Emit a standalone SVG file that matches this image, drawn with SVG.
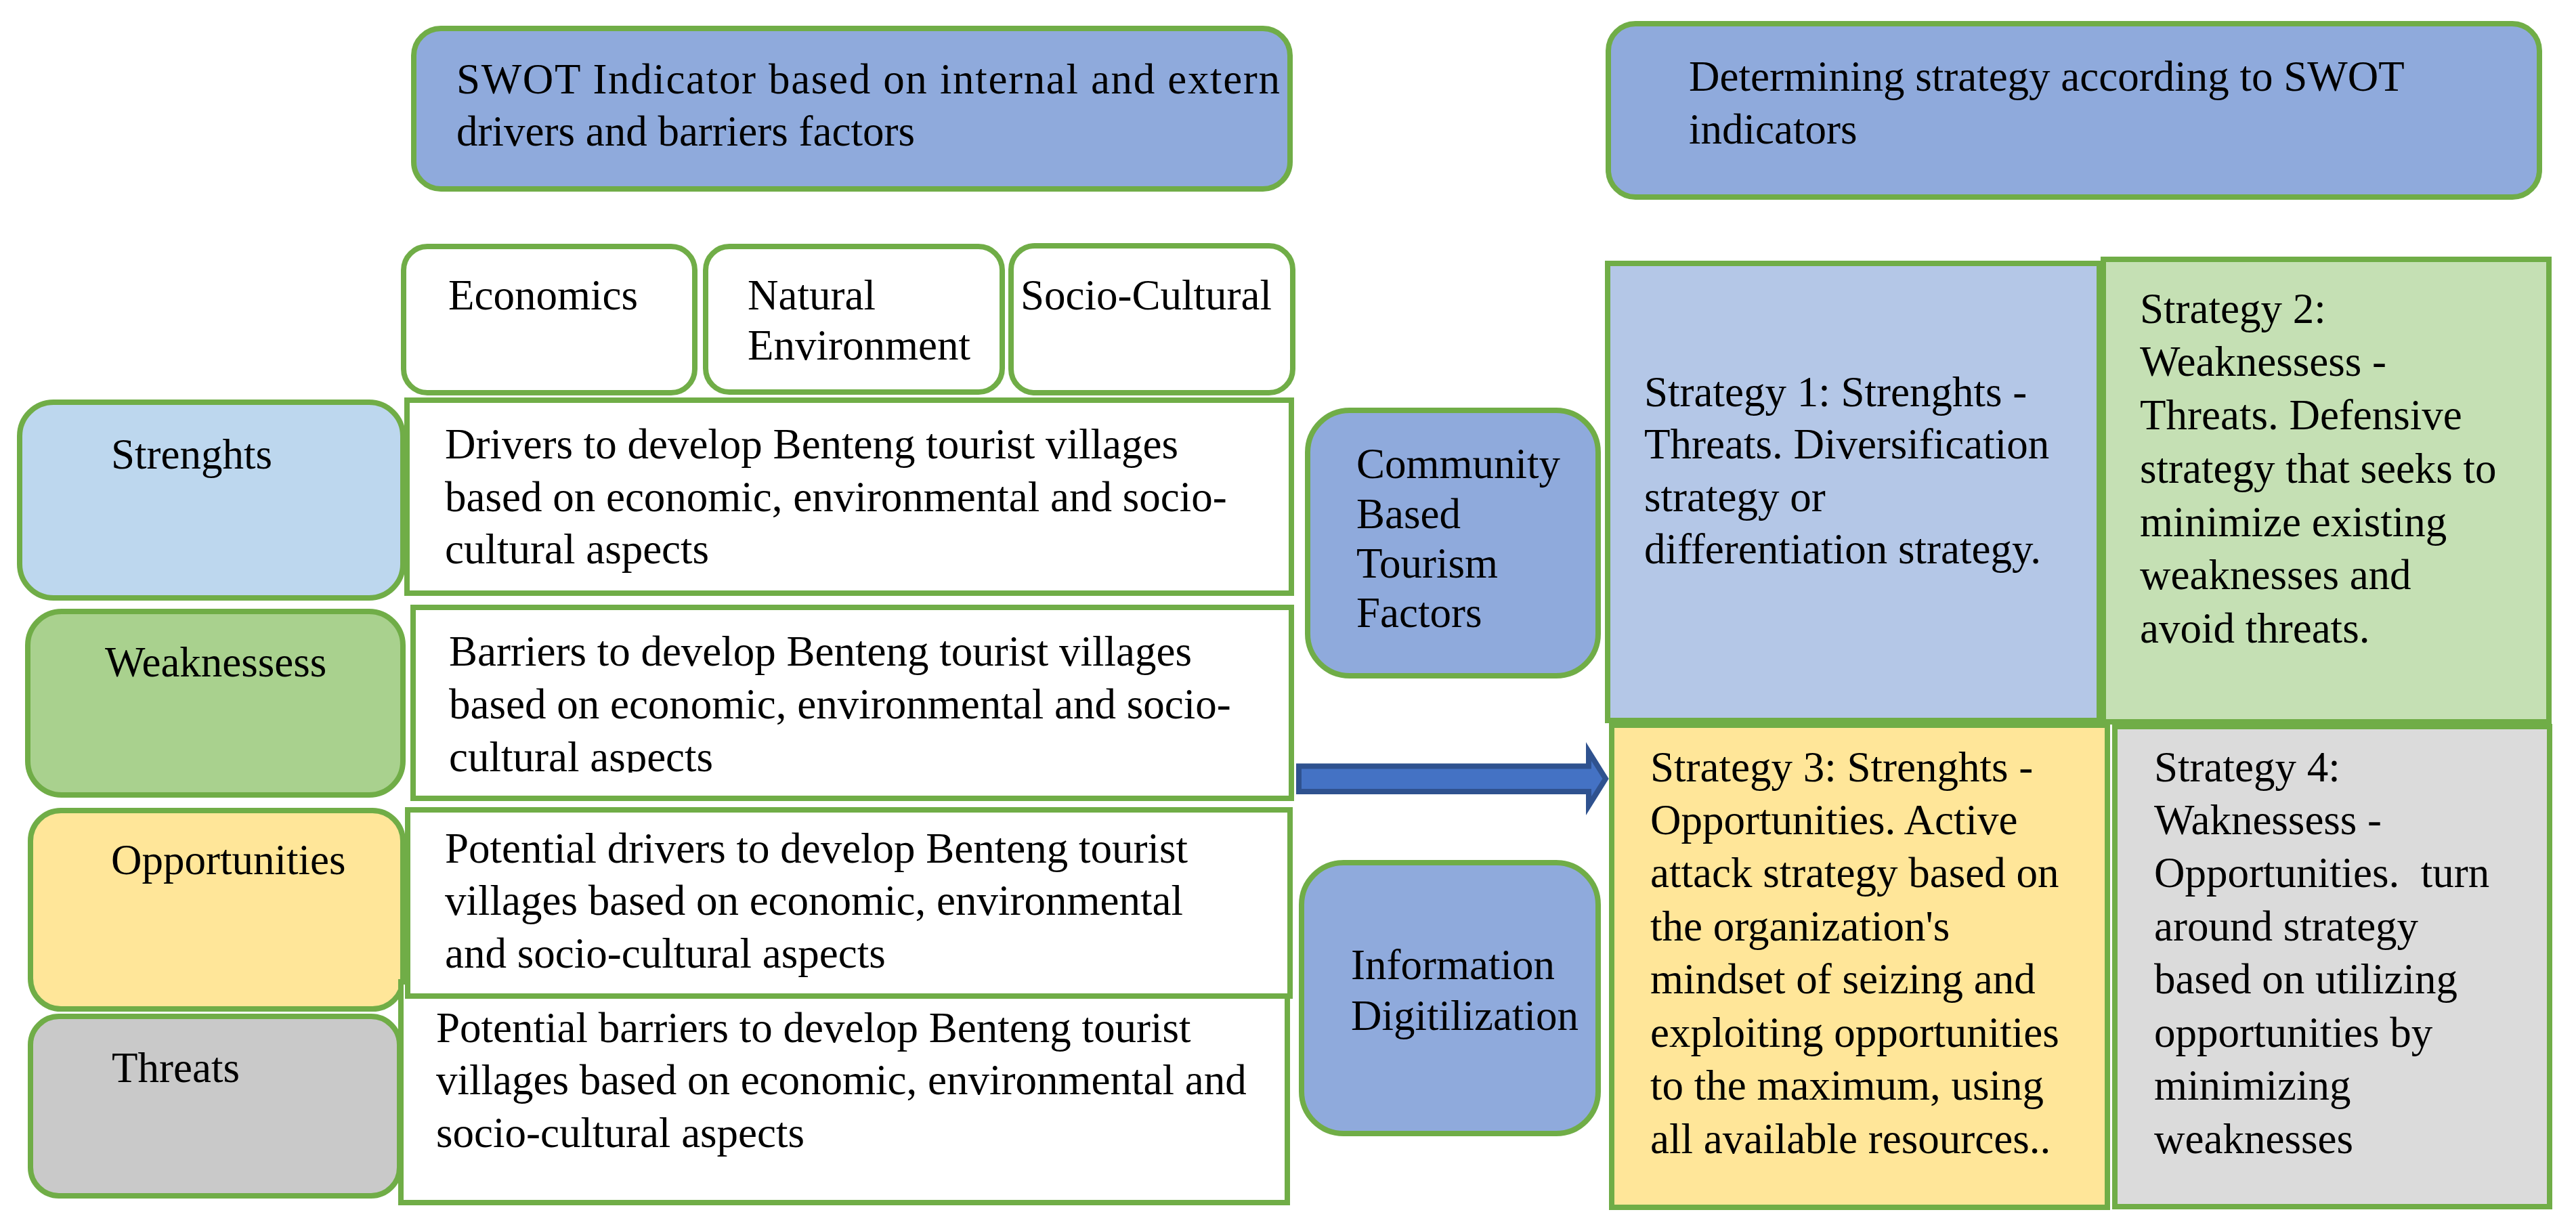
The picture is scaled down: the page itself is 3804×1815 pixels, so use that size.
<svg xmlns="http://www.w3.org/2000/svg" width="3804" height="1815" viewBox="0 0 3804 1815">
<style>
.b{stroke:#70AD47;stroke-width:8}
.t{font-family:"Liberation Serif","Times New Roman",serif;font-size:63px;fill:#000}
.hdr{fill:#8FAADC}
.wht{fill:#FFFFFF}
</style>
<defs>
<clipPath id="clipW"><rect x="600" y="890" width="1310" height="251"/></clipPath>
</defs>
<rect width="3804" height="1815" fill="#FFFFFF"/>

<g id="swot-header">
<rect class="b hdr" x="611" y="42" width="1294" height="237" rx="40"/>
<text class="t"><tspan x="674" y="138" textLength="1216" lengthAdjust="spacing">SWOT Indicator based on internal and extern</tspan><tspan x="674" y="215">drivers and barriers factors</tspan></text>
</g>

<g id="strategy-header">
<rect class="b hdr" x="2375" y="35" width="1375" height="256" rx="40"/>
<text class="t"><tspan x="2494" y="134">Determining strategy according to SWOT</tspan><tspan x="2494" y="212">indicators</tspan></text>
</g>

<g id="economics">
<rect class="b wht" x="596" y="364" width="430" height="216" rx="35"/>
<text class="t" x="662" y="457">Economics</text>
</g>
<g id="natural-environment">
<rect class="b wht" x="1042" y="364" width="438" height="215" rx="35"/>
<text class="t"><tspan x="1104" y="457">Natural</tspan><tspan x="1104" y="531">Environment</tspan></text>
</g>
<g id="socio-cultural">
<rect class="b wht" x="1493" y="363" width="416" height="217" rx="35"/>
<text class="t" x="1507" y="457">Socio-Cultural</text>
</g>

<g id="strenghts">
<rect class="b" fill="#BDD7EE" x="29" y="594" width="566" height="289" rx="50"/>
<text class="t" x="164" y="692">Strenghts</text>
</g>
<g id="weaknessess">
<rect class="b" fill="#A9D18E" x="41" y="903" width="554" height="271" rx="50"/>
<text class="t" x="155" y="999">Weaknessess</text>
</g>
<g id="opportunities">
<rect class="b" fill="#FFE699" x="45" y="1197" width="550" height="293" rx="45"/>
<text class="t" x="164" y="1291">Opportunities</text>
</g>
<g id="threats">
<rect class="b" fill="#C9C9C9" x="45" y="1501" width="545" height="265" rx="42"/>
<text class="t" x="165" y="1598">Threats</text>
</g>

<g id="potential-barriers">
<rect class="b wht" x="592" y="1450" width="1309" height="326"/>
<text class="t"><tspan x="644" y="1539">Potential barriers to develop Benteng tourist</tspan><tspan x="644" y="1616">villages based on economic, environmental and</tspan><tspan x="644" y="1694">socio-cultural aspects</tspan></text>
</g>
<g id="drivers">
<rect class="b wht" x="601" y="591" width="1306" height="285"/>
<text class="t"><tspan x="657" y="677">Drivers to develop Benteng tourist villages</tspan><tspan x="657" y="755">based on economic, environmental and socio-</tspan><tspan x="657" y="832">cultural aspects</tspan></text>
</g>
<g id="barriers">
<rect class="b wht" x="610" y="897" width="1297" height="282"/>
<text class="t" clip-path="url(#clipW)"><tspan x="663" y="983">Barriers to develop Benteng tourist villages</tspan><tspan x="663" y="1061">based on economic, environmental and socio-</tspan><tspan x="663" y="1139">cultural aspects</tspan></text>
</g>
<g id="potential-drivers">
<rect class="b wht" x="602" y="1196" width="1303" height="275"/>
<text class="t"><tspan x="657" y="1274">Potential drivers to develop Benteng tourist</tspan><tspan x="657" y="1351">villages based on economic, environmental</tspan><tspan x="657" y="1429">and socio-cultural aspects</tspan></text>
</g>

<g id="community-based-tourism">
<rect class="b hdr" x="1931" y="606" width="429" height="392" rx="62"/>
<text class="t"><tspan x="2003" y="706">Community</tspan><tspan x="2003" y="780">Based</tspan><tspan x="2003" y="853">Tourism</tspan><tspan x="2003" y="926">Factors</tspan></text>
</g>
<g id="information-digitilization">
<rect class="b hdr" x="1922" y="1274" width="438" height="400" rx="62"/>
<text class="t"><tspan x="1995" y="1446">Information</tspan><tspan x="1995" y="1521">Digitilization</tspan></text>
</g>

<g id="connectors">
<polygon points="1918,1131.5 2346,1131.5 2346,1110 2371,1150 2346,1190 2346,1169 1918,1169" fill="#4472C4" stroke="#2F528F" stroke-width="8" stroke-linejoin="miter" stroke-miterlimit="10"/>
</g>

<g id="strategy-1">
<rect class="b" fill="#B4C7E7" x="2374" y="389" width="726" height="675"/>
<text class="t"><tspan x="2428" y="600">Strategy 1: Strenghts -</tspan><tspan x="2428" y="677">Threats. Diversification</tspan><tspan x="2428" y="755">strategy or</tspan><tspan x="2428" y="832">differentiation strategy.</tspan></text>
</g>
<g id="strategy-2">
<rect class="b" fill="#C5E0B4" x="3106" y="383" width="658" height="683"/>
<text class="t"><tspan x="3160" y="477">Strategy 2:</tspan><tspan x="3160" y="555">Weaknessess -</tspan><tspan x="3160" y="634">Threats. Defensive</tspan><tspan x="3160" y="713">strategy that seeks to</tspan><tspan x="3160" y="792">minimize existing</tspan><tspan x="3160" y="870">weaknesses and</tspan><tspan x="3160" y="949">avoid threats.</tspan></text>
</g>
<g id="strategy-3">
<rect class="b" fill="#FFE699" x="2380" y="1071" width="732" height="712"/>
<text class="t"><tspan x="2437" y="1154">Strategy 3: Strenghts -</tspan><tspan x="2437" y="1232">Opportunities. Active</tspan><tspan x="2437" y="1310">attack strategy based on</tspan><tspan x="2437" y="1389">the organization's</tspan><tspan x="2437" y="1467">mindset of seizing and</tspan><tspan x="2437" y="1546">exploiting opportunities</tspan><tspan x="2437" y="1624">to the maximum, using</tspan><tspan x="2437" y="1703">all available resources..</tspan></text>
</g>
<g id="strategy-4">
<rect class="b" fill="#DBDBDB" x="3123" y="1073" width="642" height="709"/>
<text class="t"><tspan x="3181" y="1154">Strategy 4:</tspan><tspan x="3181" y="1232">Waknessess -</tspan><tspan x="3181" y="1310" xml:space="preserve">Opportunities.  turn</tspan><tspan x="3181" y="1389">around strategy</tspan><tspan x="3181" y="1467">based on utilizing</tspan><tspan x="3181" y="1546">opportunities by</tspan><tspan x="3181" y="1624">minimizing</tspan><tspan x="3181" y="1703">weaknesses</tspan></text>
</g>
</svg>
